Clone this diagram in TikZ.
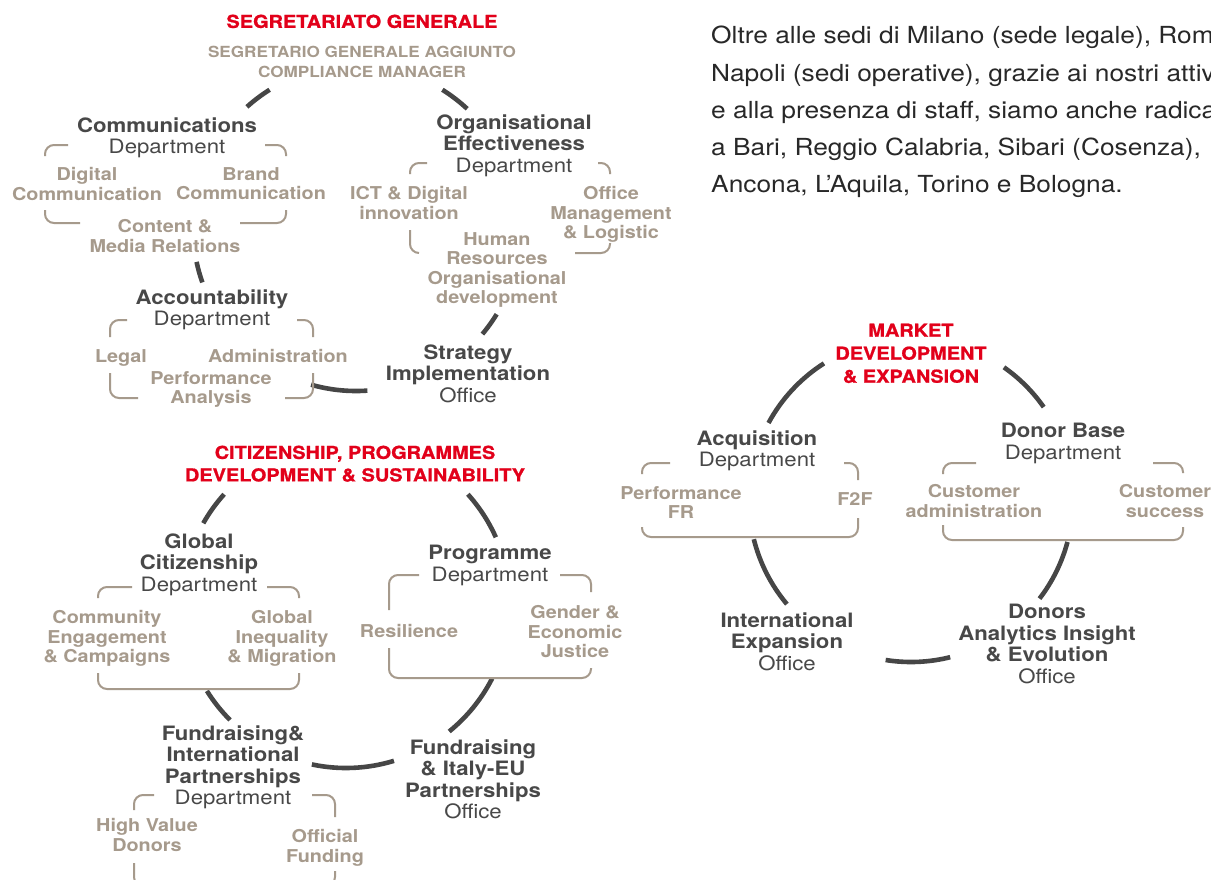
\documentclass[tikz,border=0pt]{standalone}
\usepackage{fontspec}
\setmainfont[FakeStretch=1.12]{TeX Gyre Heros}
\newfontfamily\heavyfont[FakeStretch=1.12, FakeBold=1]{TeX Gyre Heros}
\definecolor{cred}{RGB}{226,0,26}
\definecolor{cdark}{RGB}{72,72,72}
\definecolor{ctan}{RGB}{166,154,140}
\definecolor{cring}{RGB}{70,70,70}
\definecolor{cbody}{RGB}{40,40,40}
\newcommand\ringarc[4]{\draw[ring] ([shift={(#2:#4)}]#1) arc[start angle=#2, end angle=#3, radius=#4];}
\begin{document}
\begin{tikzpicture}[x=1pt,y=1pt,
  base/.style={inner sep=0pt, outer sep=0pt, align=center, anchor=north},
  redtitle/.style={base, text=cred, font=\fontsize{17.8}{22.5}\selectfont\heavyfont\bfseries, yshift=6.3pt},
  capsub/.style={base, text=ctan, font=\fontsize{15.3}{20}\selectfont\bfseries, yshift=5pt},
  unit/.style={base, text=cdark, font=\fontsize{19.8}{21.5}\selectfont, yshift=7.5pt},
  sub/.style={base, text=ctan, font=\fontsize{17.7}{19.2}\selectfont\bfseries, yshift=6.3pt},
  ring/.style={cring, line width=4.6pt},
  brk/.style={ctan, line width=2pt, rounded corners=9pt},
]
\useasboundingbox (0,0) rectangle (1211,-879);
\clip (0,0) rectangle (1211,-879);
\fill[white] (0,0) rectangle (1211,-879);

% ---------- ring centres ----------
\coordinate (r1) at (356,-228);
\coordinate (r2) at (346,-604);
\coordinate (r3) at (911,-500);

% ---------- Segretariato Generale ----------
\node[redtitle] (seg) at (362,-21) {SEGRETARIATO GENERALE};
\node[capsub] (segsub) at (362,-51) {SEGRETARIO GENERALE AGGIUNTO\\COMPLIANCE MANAGER};
\node[unit] (comm) at (167,-125) {{\bfseries Communications}\\Department};
\node[sub] (digcom) at (87,-174) {Digital\\Communication};
\node[sub] (brandcom) at (251,-174) {Brand\\Communication};
\node[sub] (content) at (165,-226) {Content \&\\Media Relations};
\node[unit] (acc) at (212,-297) {{\bfseries Accountability}\\Department};
\node[sub] (legal) at (121,-356) {Legal};
\node[sub] (admin) at (278,-356) {Administration};
\node[sub] (perf) at (211,-378) {Performance\\Analysis};
\node[unit] (strat) at (468,-352) {{\bfseries Strategy}\\{\bfseries Implementation}\\Office};
\node[unit] (orgeff) at (514,-122) {{\bfseries Organisational}\\{\bfseries Effectiveness}\\Department};
\node[sub] (ict) at (409,-193) {ICT \& Digital\\innovation};
\node[sub] (office) at (611,-193) {Office\\Management\\\& Logistic};
\node[sub] (hr) at (497,-239) {Human\\Resources\\Organisational\\development};

\ringarc{r1}{122}{132}{163}
\ringarc{r1}{47}{58}{163}
\ringarc{r1}{192}{199.5}{163}
\ringarc{r1}{-40}{-31.5}{165}
\ringarc{r1}{254}{274}{163}

\draw[brk] (45,-156) |- (68,-145);
\draw[brk] (265,-145) -| (286,-156);
\draw[brk] (45,-210) |- (80,-223);
\draw[brk] (240,-223) -| (286,-210);

\draw[brk] (110,-337) |- (127,-320);
\draw[brk] (297,-320) -| (313,-337);
\draw[brk] (110,-373) |- (138,-398);
\draw[brk] (285,-398) -| (313,-373);

\draw[brk] (410,-174) |- (427,-163);
\draw[brk] (598,-163) -| (610,-174);
\draw[brk] (410,-230) |- (419,-253);
\draw[brk] (575,-253) -| (610,-243);

% ---------- Citizenship ----------
\node[redtitle] (cit) at (355,-452) {CITIZENSHIP, PROGRAMMES\\DEVELOPMENT \& SUSTAINABILITY};
\node[unit] (gc) at (199,-541) {{\bfseries Global}\\{\bfseries Citizenship}\\Department};
\node[sub] (comeng) at (107,-617) {Community\\Engagement\\\& Campaigns};
\node[sub] (globineq) at (282,-617) {Global\\Inequality\\\& Migration};
\node[unit] (fip) at (233,-733) {{\bfseries Fundraising\&}\\{\bfseries International}\\{\bfseries Partnerships}\\Department};
\node[sub] (hvd) at (147,-825) {High Value\\Donors};
\node[sub] (offund) at (325,-836) {Official\\Funding};
\node[unit] (fie) at (473,-747) {{\bfseries Fundraising}\\{\bfseries \& Italy-EU}\\{\bfseries Partnerships}\\Office};
\node[unit] (prog) at (490,-553) {{\bfseries Programme}\\Department};
\node[sub] (resil) at (409,-631) {Resilience};
\node[sub] (gender) at (575,-612) {Gender \&\\Economic\\Justice};

\ringarc{r2}{138}{150.5}{164}
\ringarc{r2}{24}{42}{164}
\ringarc{r2}{212}{225}{164}
\ringarc{r2}{258}{287}{164}
\ringarc{r2}{309}{333}{164}

\draw[brk] (98,-598) |- (132,-587);
\draw[brk] (267,-587) -| (299,-598);
\draw[brk] (98,-673) -- (98,-689) -- (299,-689) -- (299,-673);

\draw[brk] (134,-810) |- (154,-795);
\draw[brk] (312,-795) -| (335,-817);
\draw[brk] (134,-863) |- (160,-886);
\draw[brk] (310,-886) -| (335,-871);

\draw[brk] (389,-610) |- (419,-575);
\draw[brk] (560,-575) -| (591,-592);
\draw[brk] (389,-648) -- (389,-678) -- (591,-678) -- (591,-668);

% ---------- Market Development ----------
\node[redtitle, font=\fontsize{17.8}{23}\selectfont\heavyfont\bfseries] (mkt) at (911,-330) {MARKET\\DEVELOPMENT\\\& EXPANSION};
\node[unit] (acq) at (757,-438) {{\bfseries Acquisition}\\Department};
\node[sub] (perffr) at (681,-493) {Performance\\FR};
\node[sub] (f2f) at (855,-499) {F2F};
\node[unit] (intexp) at (787,-620) {{\bfseries International}\\{\bfseries Expansion}\\Office};
\node[unit] (donors) at (1047,-612) {{\bfseries Donors}\\{\bfseries Analytics Insight}\\{\bfseries \& Evolution}\\Office};
\node[unit] (donorbase) at (1063,-431) {{\bfseries Donor Base}\\Department};
\node[sub] (custadm) at (974,-491) {Customer\\administration};
\node[sub] (custsucc) at (1165,-491) {Customer\\success};

\ringarc{r3}{122.5}{151.6}{162}
\ringarc{r3}{35}{55}{162}
\ringarc{r3}{194}{220}{162}
\ringarc{r3}{261}{284}{162}
\ringarc{r3}{322.5}{345}{162}

\draw[brk] (642,-474) |- (670,-463);
\draw[brk] (844,-463) -| (858,-480);
\draw[brk] (642,-527) -- (642,-537) -- (858,-537) -- (858,-518);

\draw[brk] (943,-474) |- (976,-463);
\draw[brk] (1153,-463) -| (1183,-473);
\draw[brk] (943,-525) -- (943,-540) -- (1183,-540) -- (1183,-527);

% ---------- body text ----------
\node[anchor=north west, inner sep=0pt, align=left, text=cbody,
      font=\fontsize{23.5}{37.25}\selectfont, yshift=10pt]
  (body) at (711,-36) {Oltre alle sedi di Milano (sede legale), Roma e\\
  Napoli (sedi operative), grazie ai nostri attivisti\\
  e alla presenza di staff, siamo anche radicati\\
  a Bari, Reggio Calabria, Sibari (Cosenza),\\
  Ancona, L’Aquila, Torino e Bologna.};
\end{tikzpicture}
\end{document}
